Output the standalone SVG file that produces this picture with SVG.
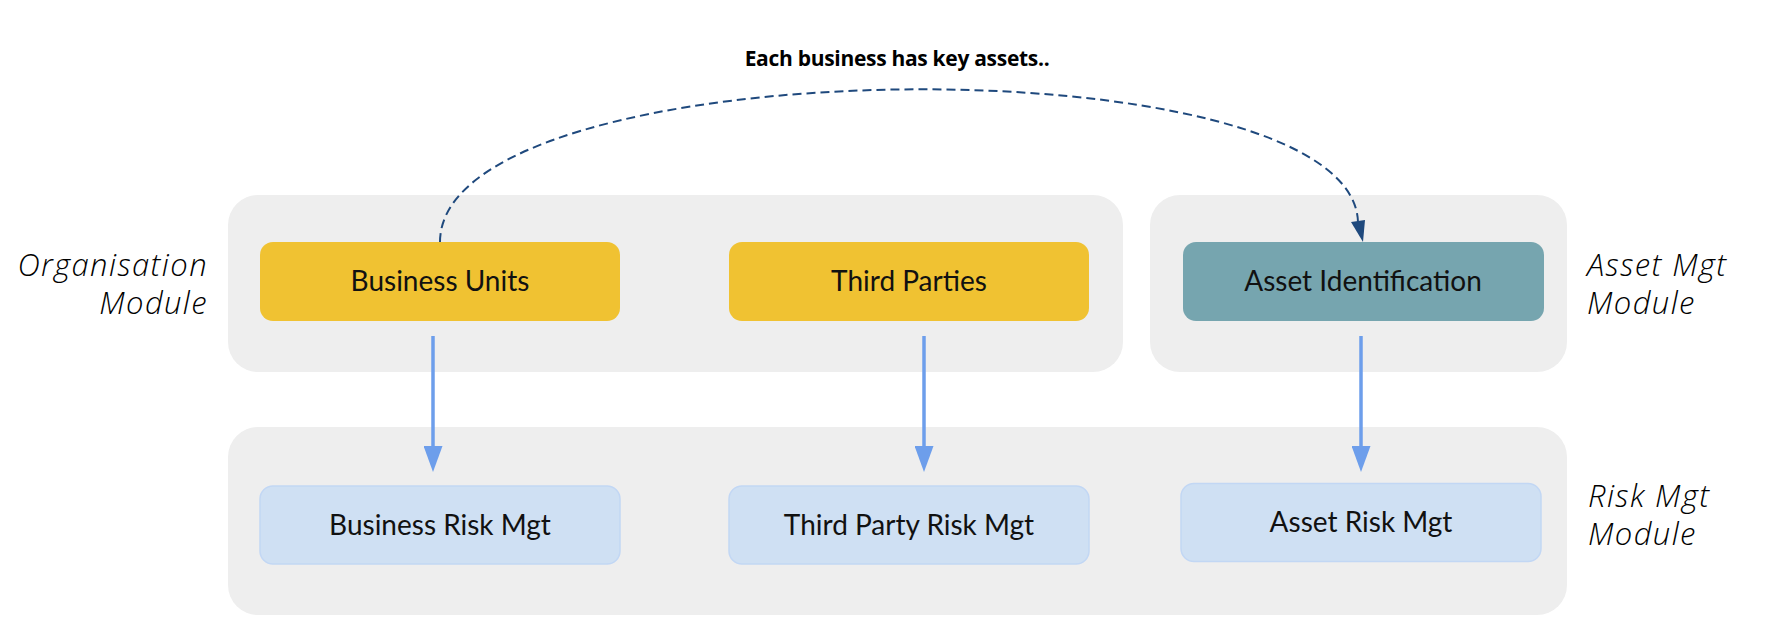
<svg xmlns="http://www.w3.org/2000/svg" width="1784" height="644" viewBox="0 0 1784 644">
<style>
.cont{fill:#eeeeee}
.yel{fill:#f0c232}
.teal{fill:#76a5af}
.risk{fill:#cfe0f3;stroke:#c2d7f4;stroke-width:1.5}
.nt{font-family:Lato,"Open Sans",sans-serif;font-size:28px;fill:#111;text-anchor:middle}
.ml{font-family:"Open Sans","Noto Sans",sans-serif;font-style:italic;font-weight:300;font-size:31px;letter-spacing:1.4px;fill:#000}
.ttl{font-family:"Open Sans","Liberation Sans",sans-serif;font-weight:bold;font-size:21px;letter-spacing:-0.3px;fill:#000;text-anchor:middle}
.blue{stroke:#6d9eeb;stroke-width:3.5;fill:none}
.dash{stroke:#1f497d;stroke-width:2;fill:none;stroke-dasharray:9 5}
</style>
<defs>
<marker id="ab" markerWidth="19" markerHeight="26" refX="9.5" refY="0" orient="0" markerUnits="userSpaceOnUse">
<path d="M0,0 L19,0 L9.5,26 Z" fill="#6d9eeb"/>
</marker>
</defs>
<g id="containers">
<rect id="org-module" class="cont" x="228" y="195" width="895" height="177" rx="30"/>
<rect id="asset-module" class="cont" x="1150" y="195" width="417" height="177" rx="30"/>
<rect id="risk-module" class="cont" x="228" y="427" width="1339" height="188" rx="30"/>
</g>
<g id="module-labels">
<text class="ml" x="208" y="276" text-anchor="end">Organisation</text>
<text class="ml" x="208" y="314" text-anchor="end">Module</text>
<text class="ml" x="1587" y="276">Asset Mgt</text>
<text class="ml" x="1587" y="314">Module</text>
<text class="ml" x="1588" y="507">Risk Mgt</text>
<text class="ml" x="1588" y="545">Module</text>
</g>
<g id="business-units"><rect class="yel" x="260" y="242" width="360" height="79" rx="13"/><text class="nt" x="440" y="291">Business Units</text></g>
<g id="third-parties"><rect class="yel" x="729" y="242" width="360" height="79" rx="13"/><text class="nt" x="909" y="291">Third Parties</text></g>
<g id="asset-identification"><rect class="teal" x="1183" y="242" width="361" height="79" rx="13"/><text class="nt" x="1363" y="291">Asset Identification</text></g>
<g id="business-risk"><rect class="risk" x="260" y="486" width="360" height="78" rx="13"/><text class="nt" x="440" y="535">Business Risk Mgt</text></g>
<g id="third-party-risk"><rect class="risk" x="729" y="486" width="360" height="78" rx="13"/><text class="nt" x="909" y="535">Third Party Risk Mgt</text></g>
<g id="asset-risk"><rect class="risk" x="1181" y="483.5" width="360" height="78" rx="13"/><text class="nt" x="1361" y="532">Asset Risk Mgt</text></g>
<g id="connectors">
<path class="blue" d="M433,336 L433,446" marker-end="url(#ab)"/>
<path class="blue" d="M924,336 L924,446" marker-end="url(#ab)"/>
<path class="blue" d="M1361,336 L1361,446" marker-end="url(#ab)"/>
<path class="dash" d="M440,242 C440,46 1352,38 1358,222"/>
<path d="M1351,222 L1365,220 L1363,242 Z" fill="#1f497d"/>
<text class="ttl" x="897" y="66">Each business has key assets..</text>
</g>
</svg>
